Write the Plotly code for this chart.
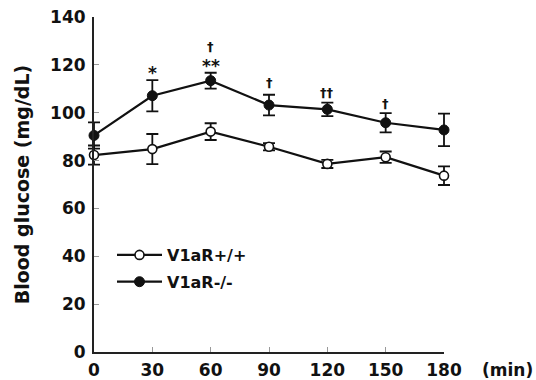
import plotly.graph_objects as go

time_min = [0, 30, 60, 90, 120, 150, 180]
wt_mean = [82.3, 84.8, 92.1, 85.8, 78.6, 81.4, 73.7]
wt_err = [4.0, 6.3, 3.5, 1.5, 1.7, 2.4, 3.9]
ko_mean = [90.5, 107.1, 113.4, 103.2, 101.4, 95.8, 92.8]
ko_err = [5.5, 6.5, 3.3, 4.3, 2.8, 4.0, 6.8]

star_x = [30, 60]
star_y = [116.5, 119.4]
star_txt = ["*", "**"]
dag_x = [60, 90, 120, 150]
dag_y = [127.6, 112.6, 108.4, 103.8]
dag_txt = ["†", "†", "††", "†"]

y_ticks = [0, 20, 40, 60, 80, 100, 120, 140]
x_ticks = [0, 30, 60, 90, 120, 150, 180]
x_range = [0, 180]
y_range = [0, 140]

FONT = "DejaVu Sans"
INK = "#111111"

# layout geometry (pixels)
W, H = 536, 380
ML, MR, MT, MB = 60, 60, 17, 28
AX_L, AX_R = 94, 444          # pixel span of the visible x axis (0..180)
pw = W - ML - MR
ph = H - MT - MB
ppu = (AX_R - AX_L) / (x_range[1] - x_range[0])
trace_x_range = [x_range[0] - (AX_L - ML) / ppu, x_range[1] + (W - MR - AX_R) / ppu]
vis_domain = [(AX_L - ML) / pw, (AX_R - ML) / pw]

fig = go.Figure()
fig.add_trace(go.Scatter(
    x=time_min, y=wt_mean, mode="lines+markers", name="V1aR+/+",
    legendgroup="wt",
    line=dict(color=INK, width=2.2),
    marker=dict(symbol="circle", size=9, color="white", line=dict(color=INK, width=1.6)),
    error_y=dict(type="data", array=wt_err, color=INK, thickness=1.8, width=6),
    cliponaxis=False,
))
fig.add_trace(go.Scatter(
    x=time_min, y=ko_mean, mode="lines+markers", name="V1aR-/-",
    legendgroup="ko",
    line=dict(color=INK, width=2.2),
    marker=dict(symbol="circle", size=10, color=INK, line=dict(color=INK, width=1)),
    error_y=dict(type="data", array=ko_err, color=INK, thickness=1.8, width=6),
    cliponaxis=False,
))

for x, y, t in zip(star_x, star_y, star_txt):
    fig.add_annotation(x=x, y=y, text=t, showarrow=False, xref="x2", yref="y2",
                       font=dict(family=FONT, size=17, color=INK, weight="bold"),
                       yanchor="middle", xanchor="center")
for x, y, t in zip(dag_x, dag_y, dag_txt):
    fig.add_annotation(x=x, y=y, text=t, showarrow=False, xref="x2", yref="y2",
                       font=dict(family=FONT, size=13, color=INK, weight="bold"),
                       yanchor="middle", xanchor="center")

fig.add_annotation(x=(507 - ML) / pw, y=(H - MB - 370) / ph, xref="paper", yref="paper",
                   text="(min)", showarrow=False,
                   font=dict(family=FONT, size=17, color=INK, weight="bold"),
                   xanchor="center", yanchor="middle")

axis_common = dict(ticks="inside", ticklen=5, tickcolor="#999999", tickwidth=1,
                   showgrid=False, zeroline=False, showline=True,
                   linecolor="#222222", linewidth=2, automargin=False,
                   tickfont=dict(family=FONT, size=17, color=INK, weight="bold"))

fig.update_layout(
    width=W, height=H,
    margin=dict(l=ML, r=MR, t=MT, b=MB, autoexpand=False),
    paper_bgcolor="white", plot_bgcolor="rgba(0,0,0,0)",
    font=dict(family=FONT, color=INK),
    showlegend=True,
    legend=dict(x=(112 - ML) / pw, y=(H - MB - 238) / ph, xanchor="left", yanchor="top",
                font=dict(family=FONT, size=16, color=INK, weight="bold"),
                bgcolor="rgba(0,0,0,0)", tracegroupgap=3, traceorder="grouped",
                itemwidth=45),
    # axes carrying the data (wider x span so end error bars are not clipped)
    xaxis=dict(domain=[0, 1], range=trace_x_range, visible=False, automargin=False),
    yaxis=dict(domain=[0, 1], range=y_range, visible=False, automargin=False),
    # visible axes
    xaxis2=dict(domain=vis_domain, range=x_range, tickvals=x_ticks, anchor="y2",
                ticklabelstandoff=2, **axis_common),
    yaxis2=dict(domain=[0, 1], range=y_range, tickvals=y_ticks, anchor="x2",
                ticklabelstandoff=3,
                title=dict(text="Blood glucose (mg/dL)",
                           font=dict(family=FONT, size=19, color=INK, weight="bold"),
                           standoff=15),
                **axis_common),
)

fig.write_html("out.html")
